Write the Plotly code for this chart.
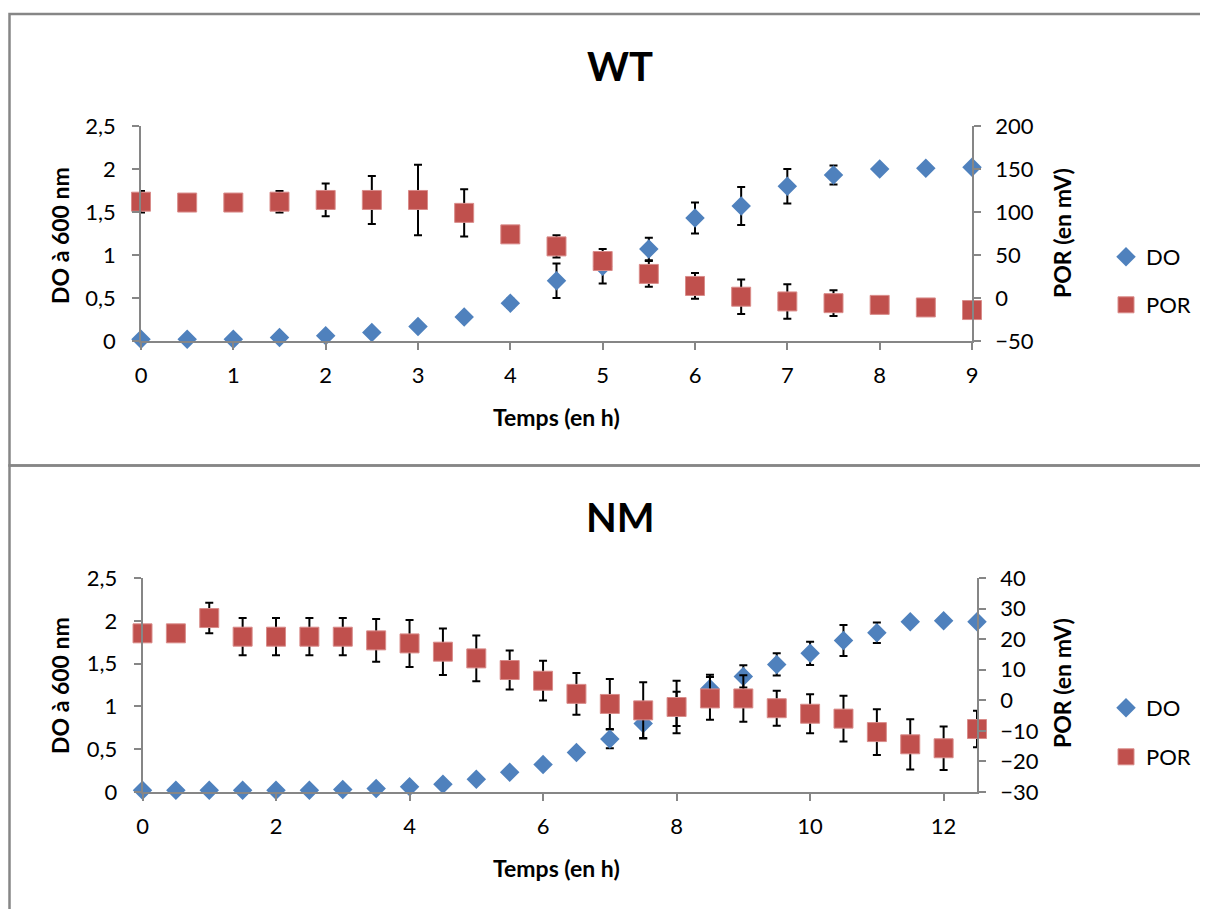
import plotly.graph_objects as go
from plotly.subplots import make_subplots

# ---------------- data ----------------
x_wt = [0, 0.5, 1, 1.5, 2, 2.5, 3, 3.5, 4, 4.5, 5, 5.5, 6, 6.5, 7, 7.5, 8, 8.5, 9]
do_wt = [0.02, 0.02, 0.02, 0.04, 0.06, 0.10, 0.17, 0.28, 0.44, 0.70, 0.87, 1.07, 1.43, 1.57, 1.80, 1.93, 2.00, 2.01, 2.02]
do_wt_err = [0, 0, 0, 0, 0, 0, 0, 0, 0.05, 0.20, 0.20, 0.13, 0.18, 0.22, 0.20, 0.11, 0.02, 0, 0]
por_wt = [112, 111, 111, 112, 114, 114, 114, 99, 74, 60, 43, 28, 14, 1.5, -4, -6, -8, -11, -14]
por_wt_err = [12.5, 0, 0, 12.5, 19, 28, 41, 27.5, 0, 13, 8, 15, 15, 20, 20, 15, 0, 0, 0]

x_nm = [0, 0.5, 1, 1.5, 2, 2.5, 3, 3.5, 4, 4.5, 5, 5.5, 6, 6.5, 7, 7.5, 8, 8.5, 9, 9.5, 10, 10.5, 11, 11.5, 12, 12.5]
do_nm = [0.02, 0.02, 0.02, 0.02, 0.02, 0.02, 0.03, 0.04, 0.06, 0.09, 0.15, 0.23, 0.32, 0.46, 0.62, 0.80,
         0.97, 1.21, 1.35, 1.49, 1.62, 1.77, 1.86, 1.99, 2.00, 1.99]
do_nm_err = [0, 0, 0, 0, 0, 0, 0, 0, 0, 0, 0, 0, 0, 0.03, 0.11, 0.17, 0.20, 0.16, 0.13, 0.13, 0.135, 0.18, 0.12, 0, 0, 0]
por_nm = [21.9, 21.9, 26.9, 20.8, 20.8, 20.8, 20.8, 19.6, 18.6, 15.9, 13.7, 9.9, 6.4, 2.1, -1.2, -3.3,
          -2.2, 0.6, 0.6, -2.6, -4.4, -6.0, -10.4, -14.4, -15.7, -9.4]
por_nm_err = [0, 0, 5, 6.1, 6.1, 6.1, 6.1, 7, 7.7, 7.6, 7.5, 6.4, 6.5, 6.8, 8.2, 9.2, 8.6, 7, 7.6, 5.7, 6.4,
              7.5, 7.5, 8.2, 7.1, 6]

do_ticks = [0, 0.5, 1, 1.5, 2, 2.5]
do_ticktext = ["0", "0,5", "1", "1,5", "2", "2,5"]
por_wt_ticks = [-50, 0, 50, 100, 150, 200]
por_nm_ticks = [-30, -20, -10, 0, 10, 20, 30, 40]
x_wt_ticks = [0, 1, 2, 3, 4, 5, 6, 7, 8, 9]
x_nm_ticks = [0, 2, 4, 6, 8, 10, 12]

# ---------------- style ----------------
W, H = 1208, 909
OFF = 8  # page body margin
FONT = "Lato"
BLUE = "#4F81BD"
RED = "#C0504D"
AX = "#868686"


def px_x(v):
    return (v - OFF) / W


def px_y(v):
    return (H - (v - OFF)) / H


fig = make_subplots(rows=2, cols=1, specs=[[{"secondary_y": True}], [{"secondary_y": True}]])

err_style = dict(type="data", color="black", thickness=2, width=4)

fig.add_trace(go.Scatter(x=x_wt, y=do_wt, mode="markers", name="DO", showlegend=True,
                         marker=dict(symbol="diamond", size=15, color=BLUE),
                         error_y=dict(array=do_wt_err, **err_style), cliponaxis=False,
                         legend="legend"), row=1, col=1, secondary_y=False)
fig.add_trace(go.Scatter(x=x_wt, y=por_wt, mode="markers", name="POR", showlegend=True,
                         marker=dict(symbol="square", size=19, color=RED,
                                     line=dict(color="#D98C8A", width=1)),
                         error_y=dict(array=por_wt_err, **err_style), cliponaxis=False,
                         legend="legend2"), row=1, col=1, secondary_y=True)
fig.add_trace(go.Scatter(x=x_nm, y=do_nm, mode="markers", name="DO", showlegend=True,
                         marker=dict(symbol="diamond", size=15, color=BLUE),
                         error_y=dict(array=do_nm_err, **err_style), cliponaxis=False,
                         legend="legend3"), row=2, col=1, secondary_y=False)
fig.add_trace(go.Scatter(x=x_nm, y=por_nm, mode="markers", name="POR", showlegend=True,
                         marker=dict(symbol="square", size=19, color=RED,
                                     line=dict(color="#D98C8A", width=1)),
                         error_y=dict(array=por_nm_err, **err_style), cliponaxis=False,
                         legend="legend4"), row=2, col=1, secondary_y=True)

axis_common = dict(showline=True, linecolor=AX, linewidth=1.5, showgrid=False, zeroline=False,
                   ticks="outside", ticklen=7, tickcolor=AX, tickwidth=1.5, automargin=False,
                   tickfont=dict(family=FONT, size=22, color="black"))

top_x = [px_x(141), px_x(972)]
top_y = [px_y(341), px_y(126)]
bot_x = [px_x(142.5), px_x(977)]
bot_y = [px_y(792), px_y(578)]

fig.update_layout(
    xaxis=dict(domain=top_x, range=[0, 9], tickvals=x_wt_ticks, ticklabelstandoff=7, **axis_common),
    yaxis=dict(domain=top_y, range=[0, 2.5], tickvals=do_ticks, ticktext=do_ticktext,
               ticklabelstandoff=12, **axis_common),
    yaxis2=dict(range=[-50, 200], tickvals=por_wt_ticks, ticklabelstandoff=10, **axis_common),
    xaxis2=dict(domain=bot_x, range=[0, 12.5], tickvals=x_nm_ticks, ticklabelstandoff=7, **axis_common),
    yaxis3=dict(domain=bot_y, range=[0, 2.5], tickvals=do_ticks, ticktext=do_ticktext,
                ticklabelstandoff=12, **axis_common),
    yaxis4=dict(range=[-30, 40], tickvals=por_nm_ticks, ticklabelstandoff=10, **axis_common),
)
fig.layout.yaxis2.domain = top_y
fig.layout.yaxis4.domain = bot_y

leg_common = dict(font=dict(family=FONT, size=22, color="black"), bgcolor="rgba(0,0,0,0)",
                  xanchor="left", yanchor="middle", itemwidth=30, tracegroupgap=0)
fig.update_layout(
    showlegend=True,
    legend=dict(x=px_x(1106), y=px_y(257), **leg_common),
    legend2=dict(x=px_x(1106), y=px_y(305), **leg_common),
    legend3=dict(x=px_x(1106), y=px_y(708), **leg_common),
    legend4=dict(x=px_x(1106), y=px_y(757), **leg_common),
)

annotations = []


def add_text(text, x, y, size, angle=0):
    annotations.append(dict(text=text, x=px_x(x), y=px_y(y), xref="paper", yref="paper",
                            showarrow=False, textangle=angle, xanchor="center", yanchor="middle",
                            font=dict(family=FONT, size=size, color="black")))


add_text("<b>WT</b>", 620, 66, 40)
add_text("<b>NM</b>", 620, 517, 40)
add_text("<b>DO à 600 nm</b>", 60, 236, 23, -90)
add_text("<b>DO à 600 nm</b>", 60, 686, 23, -90)
add_text("<b>POR (en mV)</b>", 1062, 233, 23, -90)
add_text("<b>POR (en mV)</b>", 1062, 683, 23, -90)
add_text("<b>Temps (en h)</b>", 556, 417, 23)
add_text("<b>Temps (en h)</b>", 556, 868, 23)

shapes = [
    dict(type="rect", xref="paper", yref="paper", x0=px_x(9.5), x1=1.05, y0=px_y(465.5), y1=px_y(14),
         line=dict(color=AX, width=2.5)),
    dict(type="rect", xref="paper", yref="paper", x0=px_x(9.5), x1=1.05, y0=-0.05, y1=px_y(465.5),
         line=dict(color=AX, width=2.5)),
]

fig.update_layout(
    width=W, height=H, margin=dict(l=0, r=0, t=0, b=0, autoexpand=False),
    paper_bgcolor="white", plot_bgcolor="white",
    annotations=annotations, shapes=shapes,
    font=dict(family=FONT),
)

fig.write_html("out.html")
